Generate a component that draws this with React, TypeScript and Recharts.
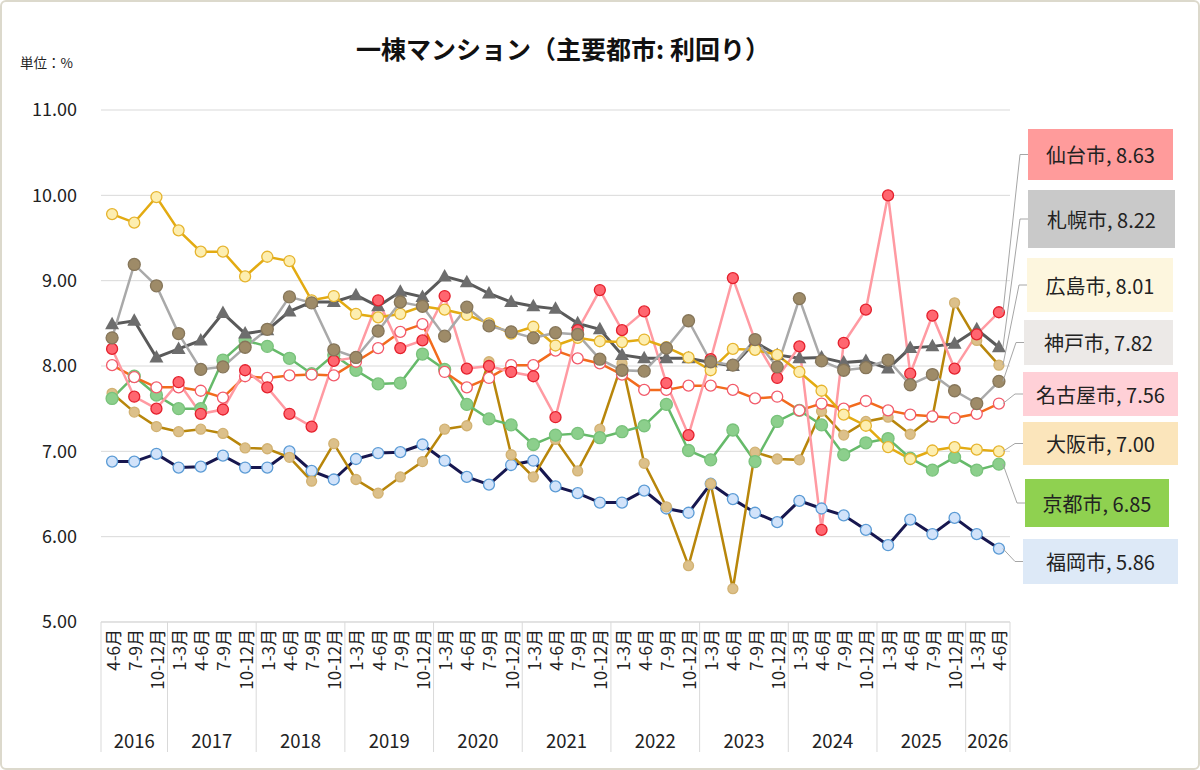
import React from 'react';
import { LineChart, Line, XAxis, YAxis, CartesianGrid, LabelList } from 'recharts';

// ---- data -------------------------------------------------------------
const quarters = [
  '4-6月', '7-9月', '10-12月',
  '1-3月', '4-6月', '7-9月', '10-12月',
  '1-3月', '4-6月', '7-9月', '10-12月',
  '1-3月', '4-6月', '7-9月', '10-12月',
  '1-3月', '4-6月', '7-9月', '10-12月',
  '1-3月', '4-6月', '7-9月', '10-12月',
  '1-3月', '4-6月', '7-9月', '10-12月',
  '1-3月', '4-6月', '7-9月', '10-12月',
  '1-3月', '4-6月', '7-9月', '10-12月',
  '1-3月', '4-6月', '7-9月', '10-12月',
  '1-3月', '4-6月',
];

const years = [
  '2016', '2016', '2016',
  '2017', '2017', '2017', '2017',
  '2018', '2018', '2018', '2018',
  '2019', '2019', '2019', '2019',
  '2020', '2020', '2020', '2020',
  '2021', '2021', '2021', '2021',
  '2022', '2022', '2022', '2022',
  '2023', '2023', '2023', '2023',
  '2024', '2024', '2024', '2024',
  '2025', '2025', '2025', '2025',
  '2026', '2026',
];

const yTicks = [5, 6, 7, 8, 9, 10, 11];

const sendai = [
  8.2, 7.64, 7.5, 7.81, 7.44, 7.49, 7.95, 7.75, 7.44, 7.29, 8.06,
  8.1, 8.77, 8.21, 8.3, 8.82, 7.97, 8.0, 7.93, 7.88, 7.4,
  8.42, 8.89, 8.42, 8.64, 7.8, 7.19, 8.08, 9.03, 8.3, 7.86,
  8.23, 6.08, 8.27, 8.66, 10.0, 7.91, 8.59, 7.97, 8.37, 8.63,
];
const sapporo = [
  8.49, 8.53, 8.1, 8.2, 8.3, 8.62, 8.38, 8.42, 8.64, 8.75, 8.75,
  8.83, 8.7, 8.87, 8.81, 9.05, 8.98, 8.85, 8.75, 8.7, 8.67,
  8.5, 8.43, 8.13, 8.09, 8.09, 8.09, 8.04, 8.0, 8.28, 8.13,
  8.09, 8.1, 8.04, 8.06, 7.97, 8.21, 8.23, 8.26, 8.43, 8.22,
];
const hiroshima = [
  7.68, 7.46, 7.29, 7.23, 7.26, 7.21, 7.04, 7.03, 6.93, 6.65, 7.09,
  6.67, 6.51, 6.7, 6.88, 7.26, 7.3, 8.05, 6.96, 6.7, 7.14,
  6.77, 7.26, 8.03, 6.86, 6.35, 5.66, 6.62, 5.39, 6.99, 6.91,
  6.9, 7.47, 7.19, 7.35, 7.4, 7.2, 7.4, 8.74, 8.3, 8.01,
];
const kobe = [
  8.33, 9.19, 8.94, 8.38, 7.96, 7.99, 8.22, 8.43, 8.81, 8.74, 8.19,
  8.1, 8.41, 8.75, 8.7, 8.35, 8.69, 8.47, 8.4, 8.33, 8.39,
  8.37, 8.08, 7.95, 7.94, 8.21, 8.53, 8.05, 8.01, 8.31, 7.99,
  8.79, 8.06, 7.95, 7.98, 8.07, 7.78, 7.9, 7.71, 7.56, 7.82,
];
const nagoya = [
  8.01, 7.87, 7.75, 7.75, 7.71, 7.63, 7.88, 7.86, 7.89, 7.9, 7.89,
  8.05, 8.21, 8.4, 8.49, 7.93, 7.75, 7.86, 8.01, 8.01, 8.18,
  8.09, 8.03, 7.9, 7.72, 7.72, 7.77, 7.77, 7.72, 7.62, 7.64,
  7.48, 7.56, 7.5, 7.59, 7.48, 7.43, 7.41, 7.39, 7.44, 7.56,
];
const osaka = [
  9.78, 9.68, 9.98, 9.59, 9.34, 9.34, 9.05, 9.28, 9.23, 8.77, 8.82,
  8.61, 8.57, 8.61, 8.7, 8.66, 8.6, 8.5, 8.38, 8.46, 8.24,
  8.33, 8.29, 8.28, 8.31, 8.22, 8.1, 7.95, 8.2, 8.19, 8.13,
  7.93, 7.71, 7.43, 7.3, 7.05, 6.91, 7.01, 7.05, 7.02, 7.0,
];
const kyoto = [
  7.62, 7.88, 7.66, 7.5, 7.5, 8.07, 8.3, 8.23, 8.09, 7.91, 8.13,
  7.95, 7.79, 7.8, 8.14, 7.96, 7.55, 7.38, 7.31, 7.08, 7.19,
  7.21, 7.16, 7.23, 7.3, 7.55, 7.01, 6.9, 7.25, 6.88, 7.35,
  7.48, 7.31, 6.96, 7.1, 7.15, 6.92, 6.78, 6.93, 6.78, 6.85,
];
const fukuoka = [
  6.88, 6.88, 6.97, 6.81, 6.82, 6.95, 6.81, 6.81, 7.0, 6.77, 6.67,
  6.91, 6.98, 6.99, 7.08, 6.89, 6.7, 6.61, 6.84, 6.89, 6.59,
  6.51, 6.4, 6.4, 6.54, 6.33, 6.28, 6.62, 6.44, 6.28, 6.17,
  6.42, 6.33, 6.25, 6.08, 5.9, 6.2, 6.03, 6.22, 6.03, 5.86,
];

const rows = quarters.map((q, i) => ({
  q,
  year: years[i],
  sendai: sendai[i],
  sapporo: sapporo[i],
  hiroshima: hiroshima[i],
  kobe: kobe[i],
  nagoya: nagoya[i],
  osaka: osaka[i],
  kyoto: kyoto[i],
  fukuoka: fukuoka[i],
}));

// ---- layout & styles --------------------------------------------------
const W = 1200;
const H = 770;
const M = { top: 110, right: 190, bottom: 0, left: 21 };
const Y_AXIS_W = 80;
const X_AXIS_H = 148;
const PLOT_W = W - M.left - Y_AXIS_W - M.right;
const BAND = PLOT_W / quarters.length;
const FONT = '"Noto Sans CJK JP", "Noto Sans", sans-serif';
const LAST = quarters.length - 1;

type Box = { x: number; y: number; w: number; h: number; fill: string };
type Series = {
  key: string;
  name: string;
  stroke: string;
  width: number;
  fill: string;
  edge: string;
  r: number;
  triangle?: boolean;
  box: Box;
};

// drawing order: later entries sit on top
const series: Series[] = [
  { key: 'fukuoka', name: '福岡市', stroke: '#17174f', width: 3, fill: '#d2e3fa', edge: '#5b9bd5', r: 5.5,
    box: { x: 1023, y: 539, w: 155, h: 45, fill: '#dde9f7' } },
  { key: 'hiroshima', name: '広島市', stroke: '#b8860b', width: 2.5, fill: '#dcc08a', edge: '#d2b273', r: 5,
    box: { x: 1027, y: 258, w: 146, h: 54, fill: '#fdf6de' } },
  { key: 'kyoto', name: '京都市', stroke: '#66ba6a', width: 2.5, fill: '#8ccf8c', edge: '#79c27b', r: 6,
    box: { x: 1025, y: 479, w: 144, h: 48, fill: '#8fd150' } },
  { key: 'nagoya', name: '名古屋市', stroke: '#f26b1d', width: 2.5, fill: '#ffffff', edge: '#f25a6a', r: 5.5,
    box: { x: 1023, y: 372, w: 155, h: 44, fill: '#ffd0d7' } },
  { key: 'sapporo', name: '札幌市', stroke: '#5a5a5a', width: 3, fill: '#6d6d6d', edge: '#6d6d6d', r: 6, triangle: true,
    box: { x: 1028, y: 190, w: 147, h: 58, fill: '#c9c9c9' } },
  { key: 'sendai', name: '仙台市', stroke: '#ff9aa2', width: 2.5, fill: '#ff6670', edge: '#e4202c', r: 5.5,
    box: { x: 1028, y: 129, w: 145, h: 51, fill: '#ff9b9b' } },
  { key: 'osaka', name: '大阪市', stroke: '#e3ab12', width: 2.5, fill: '#fdeeb0', edge: '#e6b42e', r: 5.5,
    box: { x: 1023, y: 422, w: 155, h: 43, fill: '#fbe5bb' } },
  { key: 'kobe', name: '神戸市', stroke: '#a9a9a9', width: 2.5, fill: '#9e8b68', edge: '#86765a', r: 6,
    box: { x: 1024, y: 320, w: 149, h: 45, fill: '#ece9e7' } },
];

// callout box with leader line, attached to the last point of a series
const makeCallout = (s: Series) => (props: any) => {
  const { index, value } = props;
  if (index !== LAST) return null;
  const x = props.x ?? props.viewBox?.x;
  const y = props.y ?? props.viewBox?.y;
  const midY = s.box.y + s.box.h / 2;
  return (
    <g key={`callout-${s.key}`}>
      <polyline
        points={`${x + 4},${y} ${s.box.x - 8},${midY} ${s.box.x},${midY}`}
        fill="none"
        stroke="#a6a6a6"
        strokeWidth={1}
      />
      <rect x={s.box.x} y={s.box.y} width={s.box.w} height={s.box.h} fill={s.box.fill} />
      <text
        x={s.box.x + s.box.w / 2}
        y={midY}
        textAnchor="middle"
        dominantBaseline="central"
        fontSize={20}
        fontFamily={FONT}
        fill="#222"
      >
        {`${s.name}, ${Number(value).toFixed(2)}`}
      </text>
    </g>
  );
};

const triangleDot = (color: string) => (p: any) => {
  const { cx, cy, index } = p;
  if (cx == null || cy == null) return <g key={`t-${index}`} />;
  return (
    <polygon
      key={`t-${index}`}
      points={`${cx},${cy - 7.5} ${cx - 7},${cy + 5} ${cx + 7},${cy + 5}`}
      fill={color}
    />
  );
};

// quarter label + year grouping under the axis
const QuarterTick = (props: any) => {
  const { x, y, payload } = props;
  const i: number = payload?.index ?? props.index ?? 0;
  const yr = years[i];
  const first = i === 0 || years[i - 1] !== yr;
  const count = years.filter((v) => v === yr).length;
  const left = x - BAND / 2;
  return (
    <g>
      <text
        transform={`translate(${x},${y + 7}) rotate(-90)`}
        textAnchor="end"
        dominantBaseline="central"
        fontSize={17}
        fontFamily={FONT}
        fill="#222"
      >
        {quarters[i]}
      </text>
      {first && (
        <>
          <line x1={left} y1={y} x2={left} y2={y + 130} stroke="#d9d9d9" strokeWidth={1} />
          <text
            x={left + (count * BAND) / 2}
            y={y + 118}
            textAnchor="middle"
            dominantBaseline="central"
            fontSize={18.5}
            fontFamily={FONT}
            fill="#222"
          >
            {yr}
          </text>
        </>
      )}
      {i === LAST && (
        <line x1={x + BAND / 2} y1={y} x2={x + BAND / 2} y2={y + 130} stroke="#d9d9d9" strokeWidth={1} />
      )}
    </g>
  );
};

export default function App() {
  return (
    <div style={{ position: 'absolute', left: 0, top: 0, width: W, height: H, background: '#fff', fontFamily: FONT }}>
      <LineChart width={W} height={H} data={rows} margin={M}>
        <CartesianGrid vertical={false} stroke="#d9d9d9" />
        <XAxis
          dataKey="q"
          interval={0}
          height={X_AXIS_H}
          padding={{ left: BAND / 2, right: BAND / 2 }}
          tickLine={false}
          tickSize={0}
          tickMargin={0}
          axisLine={{ stroke: '#d9d9d9' }}
          tick={<QuarterTick />}
        />
        <YAxis
          domain={[5, 11]}
          ticks={yTicks}
          width={Y_AXIS_W}
          axisLine={false}
          tickLine={false}
          tickMargin={18}
          tickFormatter={(v: number) => v.toFixed(2)}
          tick={{ fontSize: 18, fill: '#222', fontFamily: FONT }}
        />
        {series.map((s) => (
          <Line
            key={s.key}
            dataKey={s.key}
            name={s.name}
            type="linear"
            stroke={s.stroke}
            strokeWidth={s.width}
            isAnimationActive={false}
            activeDot={false}
            dot={
              s.triangle
                ? triangleDot(s.fill)
                : { r: s.r, fill: s.fill, stroke: s.edge, strokeWidth: 1.3 }
            }
          >
            <LabelList dataKey={s.key} content={makeCallout(s)} />
          </Line>
        ))}
      </LineChart>
      <div
        style={{
          position: 'absolute',
          left: 0,
          width: 1126,
          top: 32,
          textAlign: 'center',
          fontSize: 25,
          fontWeight: 700,
          color: '#111',
          lineHeight: '32px',
        }}
      >
        一棟マンション（主要都市: 利回り）
      </div>
      <div style={{ position: 'absolute', left: 20, top: 53, fontSize: 13.5, color: '#222', lineHeight: '18px' }}>
        単位：%
      </div>
      <div
        style={{
          position: 'absolute',
          inset: 0,
          border: '2px solid #dcd9cc',
          borderRadius: 6,
          pointerEvents: 'none',
        }}
      />
    </div>
  );
}
